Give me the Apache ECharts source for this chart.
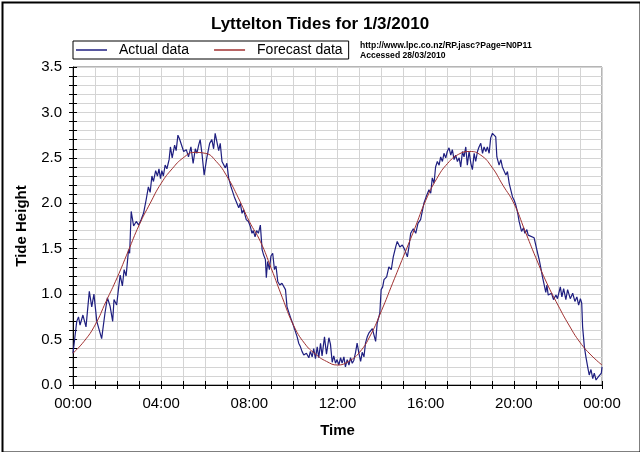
<!DOCTYPE html>
<html>
<head>
<meta charset="utf-8">
<script src="https://cdn.jsdelivr.net/npm/echarts@6/dist/echarts.min.js"></script>
<style>html,body{margin:0;padding:0;background:#fff;}#c{width:640px;height:452px;}</style>
</head>
<body>
<div id="c"></div>
<script>
const xTickLabels = ['00:00','04:00','08:00','12:00','16:00','20:00','00:00'];
const yTickLabels = ['0.0','0.5','1.0','1.5','2.0','2.5','3.0','3.5'];

const forecastTime = [0,0.5,1,1.5,2,2.5,3,3.5,4,4.5,5,5.5,6,6.5,7,7.5,8,8.5,9,9.5,10,10.5,11,11.5,12,12.5,13,13.5,14,14.5,15,15.5,16,16.5,17,17.5,18,18.5,19,19.5,20,20.5,21,21.5,22,22.5,23,23.5,24];
const forecastHeight = [0.35,0.48,0.66,0.92,1.18,1.47,1.76,2.00,2.22,2.38,2.50,2.56,2.55,2.46,2.29,2.06,1.80,1.58,1.28,0.96,0.66,0.46,0.34,0.26,0.22,0.26,0.36,0.55,0.82,1.12,1.42,1.72,2.03,2.27,2.44,2.54,2.57,2.53,2.40,2.20,2.00,1.70,1.40,1.12,0.88,0.66,0.47,0.33,0.22];

const actualTime = [0.00,0.09,0.17,0.25,0.32,0.45,0.59,0.74,0.85,0.95,1.08,1.15,1.30,1.45,1.56,1.68,1.80,1.86,1.98,2.06,2.14,2.24,2.32,2.41,2.52,2.57,2.64,2.75,2.87,2.98,3.09,3.20,3.32,3.42,3.50,3.58,3.65,3.75,3.83,3.90,3.97,4.03,4.10,4.18,4.26,4.36,4.42,4.50,4.61,4.68,4.76,4.83,4.91,5.02,5.14,5.24,5.35,5.45,5.55,5.62,5.70,5.77,5.85,5.95,6.07,6.20,6.30,6.38,6.45,6.53,6.61,6.68,6.76,6.83,6.91,6.98,7.06,7.17,7.26,7.32,7.41,7.52,7.59,7.67,7.74,7.86,7.96,8.05,8.12,8.18,8.26,8.33,8.41,8.50,8.58,8.65,8.73,8.77,8.83,8.91,8.98,9.06,9.14,9.21,9.29,9.38,9.48,9.56,9.64,9.71,9.79,9.86,9.94,10.02,10.09,10.17,10.24,10.32,10.39,10.47,10.59,10.70,10.77,10.85,10.92,11.00,11.08,11.15,11.23,11.30,11.41,11.50,11.61,11.68,11.76,11.83,11.91,11.98,12.06,12.14,12.21,12.29,12.36,12.44,12.52,12.59,12.67,12.74,12.82,12.89,12.97,13.05,13.12,13.20,13.27,13.35,13.42,13.50,13.58,13.65,13.73,13.80,13.92,13.98,14.05,14.11,14.23,14.33,14.44,14.53,14.64,14.71,14.83,14.94,15.05,15.17,15.24,15.32,15.44,15.55,15.65,15.77,15.92,16.05,16.15,16.23,16.30,16.38,16.45,16.53,16.61,16.68,16.76,16.83,16.91,16.98,17.06,17.14,17.21,17.29,17.36,17.44,17.52,17.59,17.67,17.74,17.82,17.89,17.97,18.05,18.12,18.20,18.27,18.35,18.42,18.50,18.58,18.65,18.73,18.80,18.88,18.95,19.03,19.11,19.18,19.23,19.33,19.41,19.48,19.56,19.64,19.71,19.79,19.86,19.94,20.02,20.09,20.17,20.24,20.29,20.35,20.44,20.50,20.59,20.65,20.74,20.92,21.00,21.08,21.15,21.23,21.30,21.38,21.45,21.50,21.56,21.65,21.71,21.80,21.91,21.98,22.11,22.18,22.26,22.36,22.44,22.56,22.67,22.77,22.86,22.94,23.02,23.08,23.12,23.20,23.27,23.35,23.42,23.50,23.58,23.65,23.73,23.83,23.92,23.97,24.00];
const actualHeight = [0.35,0.37,0.70,0.75,0.66,0.77,0.64,1.03,0.86,1.00,0.70,0.72,0.51,0.79,0.96,0.87,0.70,0.94,0.88,1.05,1.21,1.09,1.27,1.20,1.49,1.45,1.91,1.75,1.80,1.76,1.82,1.89,2.04,2.18,2.12,2.30,2.24,2.36,2.30,2.38,2.27,2.36,2.30,2.42,2.38,2.48,2.62,2.50,2.64,2.58,2.75,2.71,2.73,2.57,2.59,2.51,2.62,2.44,2.60,2.55,2.64,2.70,2.55,2.31,2.50,2.66,2.70,2.60,2.77,2.79,2.58,2.66,2.46,2.46,2.39,2.44,2.28,2.18,2.20,2.07,2.09,1.95,2.00,1.89,1.93,1.82,1.80,1.74,1.67,1.70,1.63,1.70,1.67,1.76,1.49,1.43,1.38,1.18,1.36,1.27,1.42,1.45,1.27,1.31,1.14,1.10,1.12,1.10,1.05,0.86,0.88,0.75,0.73,0.64,0.62,0.53,0.46,0.42,0.37,0.33,0.35,0.30,0.37,0.31,0.40,0.29,0.42,0.30,0.46,0.32,0.53,0.34,0.52,0.45,0.25,0.32,0.24,0.28,0.22,0.30,0.24,0.31,0.20,0.28,0.22,0.30,0.24,0.27,0.36,0.46,0.35,0.26,0.36,0.31,0.46,0.53,0.57,0.55,0.62,0.64,0.48,0.68,0.79,1.05,1.08,1.16,1.19,1.30,1.27,1.41,1.52,1.58,1.52,1.54,1.49,1.41,1.52,1.67,1.72,1.67,1.78,1.82,2.00,2.09,2.15,2.11,2.28,2.22,2.40,2.46,2.42,2.51,2.46,2.55,2.50,2.57,2.61,2.53,2.59,2.48,2.53,2.46,2.50,2.40,2.57,2.51,2.62,2.42,2.57,2.44,2.37,2.55,2.46,2.57,2.62,2.66,2.55,2.62,2.57,2.62,2.55,2.72,2.77,2.79,2.73,2.51,2.42,2.48,2.40,2.42,2.31,2.35,2.22,2.20,2.07,2.03,1.98,1.90,1.80,1.82,1.69,1.73,1.67,1.71,1.65,1.63,1.62,1.60,1.45,1.38,1.28,1.19,1.10,1.02,1.10,0.99,0.97,1.01,0.94,0.99,0.95,1.08,0.97,1.06,0.94,1.05,0.95,1.01,0.92,0.97,0.88,0.95,0.90,0.64,0.42,0.31,0.20,0.11,0.17,0.07,0.13,0.055,0.09,0.07,0.13,0.20];

const actual = actualTime.map((t, i) => [t, actualHeight[i]]);
const forecast = forecastTime.map((t, i) => [t, forecastHeight[i]]);

const FONT = 'Liberation Sans';
const gridColor = '#d4d4d4';

const chart = echarts.init(document.getElementById('c'), null, {renderer: 'canvas'});
chart.setOption({
  backgroundColor: '#ffffff',
  animation: false,
  title: {
    text: 'Lyttelton Tides for 1/3/2010',
    left: 'center', top: 11,
    textStyle: {fontFamily: FONT, fontSize: 17, fontWeight: 'bold', color: '#000'}
  },
  legend: {
    left: 73, top: 41,
    padding: [2, 6, 2, 3],
    icon: 'rect',
    itemWidth: 31, itemHeight: 1.5, itemGap: 25,
    borderColor: '#000', borderWidth: 1,
    textStyle: {fontFamily: FONT, fontSize: 14, color: '#000', padding: [0, 0, 0, 7], lineHeight: 14},
    data: ['Actual data', 'Forecast data']
  },
  grid: {left: 73, right: 38, top: 67, bottom: 67, show: true, borderColor: '#6a6a6a', borderWidth: 1, containLabel: false},
  xAxis: [{
    type: 'value', min: 0, max: 24, interval: 4,
    axisLine: {show: true, onZero: false, lineStyle: {color: '#000', width: 1}},
    axisTick: {show: true, length: 4, lineStyle: {color: '#000'}},
    minorTick: {show: true, splitNumber: 4, length: 4, lineStyle: {color: '#000'}},
    splitLine: {show: true, lineStyle: {color: gridColor, width: 1}},
    minorSplitLine: {show: true, lineStyle: {color: gridColor, width: 1}},
    axisLabel: {formatter: v => xTickLabels[Math.round(v / 4)], fontFamily: FONT, fontSize: 15, color: '#000', margin: 11},
    name: 'Time', nameLocation: 'middle', nameGap: 38,
    nameTextStyle: {fontFamily: FONT, fontSize: 15, fontWeight: 'bold', color: '#000'}
  }, {
    type: 'value', min: 0, max: 24, interval: 4, position: 'bottom',
    axisLine: {show: false},
    axisTick: {show: true, inside: true, length: 4, lineStyle: {color: '#000'}},
    minorTick: {show: true, splitNumber: 4, length: 4, lineStyle: {color: '#000'}},
    splitLine: {show: false}, axisLabel: {show: false}
  }],
  yAxis: [{
    type: 'value', min: 0, max: 3.5, interval: 0.5,
    axisLine: {show: true, onZero: false, lineStyle: {color: '#000', width: 1}},
    axisTick: {show: true, length: 4, lineStyle: {color: '#000'}},
    minorTick: {show: true, splitNumber: 5, length: 4, lineStyle: {color: '#000'}},
    splitLine: {show: true, lineStyle: {color: gridColor, width: 1}},
    minorSplitLine: {show: true, lineStyle: {color: gridColor, width: 1}},
    axisLabel: {formatter: v => yTickLabels[Math.round(v / 0.5)], fontFamily: FONT, fontSize: 15, color: '#000', margin: 11},
    name: 'Tide Height', nameLocation: 'middle', nameGap: 44,
    nameTextStyle: {fontFamily: FONT, fontSize: 15, fontWeight: 'bold', color: '#000'}
  }, {
    type: 'value', min: 0, max: 3.5, interval: 0.5, position: 'left',
    axisLine: {show: false},
    axisTick: {show: true, inside: true, length: 4, lineStyle: {color: '#000'}},
    minorTick: {show: true, splitNumber: 5, length: 4, lineStyle: {color: '#000'}},
    splitLine: {show: false}, axisLabel: {show: false}
  }],
  series: [{
    name: 'Actual data', type: 'line', data: actual, symbol: 'none',
    xAxisIndex: 0, yAxisIndex: 0,
    lineStyle: {color: '#1f1f80', width: 1.2}, itemStyle: {color: '#1f1f80'}, z: 3
  }, {
    name: 'Forecast data', type: 'line', data: forecast, symbol: 'none', smooth: true,
    xAxisIndex: 0, yAxisIndex: 0,
    lineStyle: {color: '#a03030', width: 1}, itemStyle: {color: '#a03030'}, z: 4
  }],
  graphic: [
    {type: 'text', left: 360, top: 41, style: {text: 'http://www.lpc.co.nz/RP.jasc?Page=N0P11', fontFamily: FONT, fontSize: 8.6, fontWeight: 'bold', fill: '#000'}},
    {type: 'text', left: 360, top: 51, style: {text: 'Accessed 28/03/2010', fontFamily: FONT, fontSize: 8.6, fontWeight: 'bold', fill: '#000'}},
    {type: 'rect', left: 0, top: 0, shape: {x: 1, y: 1, width: 638, height: 450}, style: {fill: 'none', stroke: '#000', lineWidth: 2}, silent: true, z: 100}
  ]
});
</script>
</body>
</html>
